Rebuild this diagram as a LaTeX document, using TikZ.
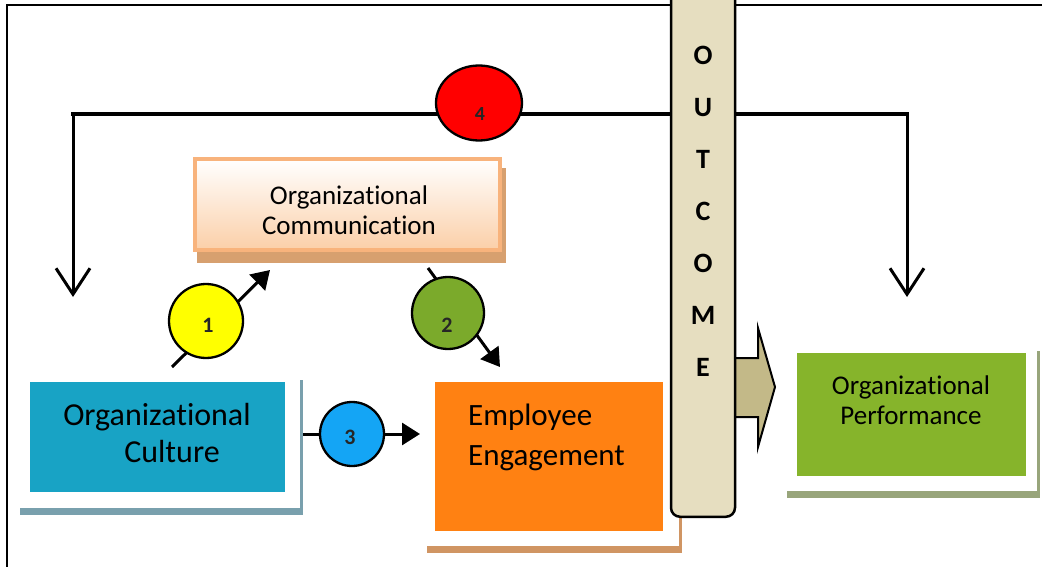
\documentclass[tikz,border=0pt]{standalone}
\usepackage{fontspec}
\setmainfont{Carlito}[Ligatures={NoCommon}]
\usetikzlibrary{arrows.meta,shapes.geometric,calc}

\definecolor{cultFill}{HTML}{18A3C5}
\definecolor{cultShadow}{HTML}{79A0AD}
\definecolor{empFill}{HTML}{FF8112}
\definecolor{empShadow}{HTML}{D09563}
\definecolor{perfFill}{HTML}{86B42B}
\definecolor{perfShadow}{HTML}{98A57B}
\definecolor{commBorder}{HTML}{F8B37C}
\definecolor{commShadow}{HTML}{D7A06F}
\definecolor{commLow}{HTML}{FBCFA8}
\definecolor{outcFill}{HTML}{E6DEC0}
\definecolor{chevFill}{HTML}{C3B988}
\definecolor{yellowC}{HTML}{FFFF00}
\definecolor{greenC}{HTML}{7BAA2B}
\definecolor{blueC}{HTML}{14A5F5}
\definecolor{redC}{HTML}{FF0000}

\tikzset{
  box/.style={inner sep=0pt, outer sep=0pt},
  boxtext/.style={inner sep=0pt, align=center, anchor=north},
  looparrow/.style={line width=3pt, -{Straight Barb[length=26pt,width=34pt]}},
  linkarrow/.style={line width=3pt, -{Triangle[length=18pt,width=22pt]}},
  badge/.style={circle, draw=black, line width=2.3pt, inner sep=0pt},
  num/.style={inner sep=0pt, font=\bfseries\fontsize{22}{22}\selectfont, text=black!85},
}

\begin{document}
\begin{tikzpicture}[x=1pt,y=-1pt]
\useasboundingbox (0,0) rectangle (1042,567);
\clip (0,0) rectangle (1042,567);

% outer frame
\draw[line width=2pt] (7,570) -- (7,5) -- (1045,5);

% feedback loop across the top
\coordinate (lt) at (73,114);
\coordinate (rt) at (907,114);
\coordinate (lb) at (73,297);
\coordinate (rb) at (907,297);
\draw[line width=4.5pt, line cap=rect] (lt) -- (rt);
\draw[looparrow] (lt) -- (lb);
\draw[looparrow] (rt) -- (rb);
\node[ellipse, draw=black, line width=2.3pt, fill=redC, minimum width=86pt,
      minimum height=75pt, inner sep=0pt] (e4) at (479,103) {};
\node[num, font=\bfseries\fontsize{20}{20}\selectfont] (n4) at (480,114) {4};

% Organizational Communication
\fill[commShadow] (197,168) rectangle (506,263);
\node[box, draw=commBorder, line width=4pt, top color=white, bottom color=commLow,
      minimum width=305pt, minimum height=91pt] (comm) at (347.5,204.5) {};
\node[boxtext, font=\fontsize{27}{30}\selectfont] (commtxt) at (349,186)
  {Organizational\\Communication};

% connectors with numbered badges
\coordinate (a1s) at (172,367);
\coordinate (a1e) at (270,270);
\coordinate (a2s) at (428,268);
\coordinate (a2e) at (500,367);
\coordinate (a3s) at (300,434);
\coordinate (a3e) at (420,434);
\draw[linkarrow] (a1s) -- (a1e);
\draw[linkarrow] (a2s) -- (a2e);
\draw[linkarrow] (a3s) -- (a3e);
\node[badge, fill=yellowC, minimum size=74pt] (c1) at (206,321) {};
\node[num] (n1) at (208,325) {1};
\node[badge, fill=greenC, minimum size=72pt] (c2) at (448,313) {};
\node[num] (n2) at (447,325) {2};
\node[badge, fill=blueC, minimum size=64pt] (c3) at (352,434) {};
\node[num] (n3) at (350,437) {3};

% Organizational Culture
\fill[cultShadow] (20,380) rectangle (303,515);
\fill[white] (20,377) rectangle (300,508);
\node[box, fill=cultFill, minimum width=255pt, minimum height=110pt] (cult) at (157.5,436.5) {};
\node[boxtext, font=\fontsize{32}{37}\selectfont] (culttxt) at (157,403)
  {Organizational\\\hspace*{30pt}Culture};

% Employee Engagement
\fill[empShadow] (427,378) rectangle (682,553);
\fill[white] (427,375) rectangle (679,546);
\node[box, fill=empFill, minimum width=228pt, minimum height=149pt] (emp) at (549,456.5) {};
\node[inner sep=0pt, align=left, anchor=north west, font=\fontsize{31}{40}\selectfont]
  (emptxt) at ($(emp.north west)+(33,22)$) {Employee\\Engagement};

% Organizational Performance
\fill[perfShadow] (787,351) rectangle (1040,498);
\fill[white] (787,348) rectangle (1037,491);
\node[box, fill=perfFill, minimum width=229pt, minimum height=123pt] (perf) at (911.5,414.5) {};
\node[boxtext, font=\fontsize{27}{30}\selectfont] (perftxt) at (911,376)
  {Organizational\\Performance};

% block arrow from the outcome bar
\draw[line width=2pt, fill=chevFill, line join=miter]
  (725,358) -- (758,358) -- (758,328) -- (775,387) -- (758,447) -- (758,417) -- (725,417) -- cycle;

% OUTCOME bar
\node[draw=black, line width=2.5pt, fill=outcFill, rounded corners=9pt,
      minimum width=64pt, minimum height=545pt, inner sep=0pt, anchor=south]
  (outcome) at (703,518) {};
\node[boxtext, font=\bfseries\fontsize{28}{52}\selectfont] (outtxt) at (703,46)
  {O\\U\\T\\C\\O\\M\\E};
\end{tikzpicture}
\end{document}
